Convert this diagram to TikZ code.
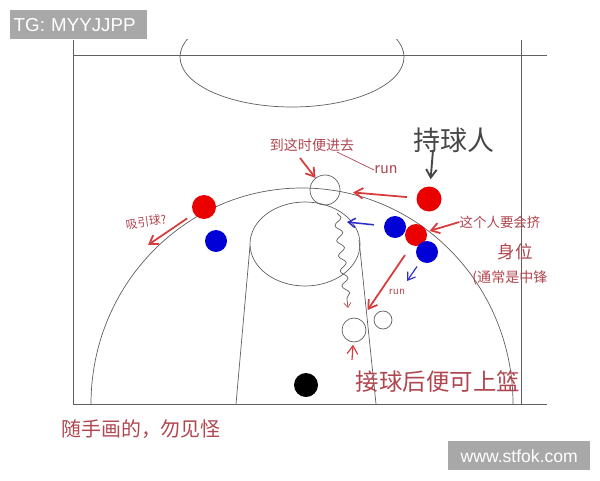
\documentclass[tikz,border=0pt]{standalone}
\usepackage{fontspec}
\newfontfamily\cjk{Noto Sans CJK SC}
\newfontfamily\wmfont{Liberation Sans}
\usetikzlibrary{arrows.meta,decorations.pathmorphing}
\definecolor{court}{RGB}{95,95,95}
\definecolor{hand}{RGB}{175,70,80}
\definecolor{ink}{RGB}{70,70,70}
\definecolor{penred}{RGB}{215,60,60}
\definecolor{penblue}{RGB}{45,45,205}
\definecolor{dotred}{RGB}{235,0,0}
\definecolor{dotblue}{RGB}{0,0,215}
\definecolor{mark}{RGB}{168,168,168}

\begin{document}
\begin{tikzpicture}[x=0.03cm,y=-0.03cm,
    line/.style={draw=court,line width=0.6pt},
    offense/.style={circle,fill=dotred,inner sep=0pt,minimum size=0.66cm},
    defense/.style={circle,fill=dotblue,inner sep=0pt,minimum size=0.66cm},
    spot/.style={circle,draw=court,line width=0.6pt,inner sep=0pt,minimum size=#1},
    note/.style={text=hand,font=\cjk\fontsize{#1}{#1}\selectfont,inner sep=0pt},
    pass/.style={draw=penred,line width=1.5pt,-{Straight Barb[length=7pt,width=9pt]}},
    guard/.style={draw=penblue,line width=1.3pt,-{Straight Barb[length=6pt,width=8pt]}},
    inkarrow/.style={draw=ink,line width=1.6pt,-{Straight Barb[length=7pt,width=9pt]}},
    dribble/.style={draw=court,line width=0.6pt,decorate,
      decoration={snake,segment length=13pt,amplitude=3pt,post length=5pt},
      -{Straight Barb[color=penred,length=4pt,width=6pt]}},
    markbox/.style={fill=mark,text=white,inner xsep=3pt,inner ysep=0pt,minimum height=0.87cm}]
    \useasboundingbox (0,0) rectangle (600,480);

    \draw[line] (73,40) -- (73,404) -- (547,404);
    \draw[line] (73,55) -- (547,55);
    \draw[line] (521,40) -- (521,404);
    \begin{scope}
      \clip (0,40) rectangle (600,480);
      \draw[line] (292,57) ellipse[x radius=112,y radius=50];
    \end{scope}
    \draw[line] (91,404) arc[start angle=180,end angle=360,x radius=211,y radius=216];
    \draw[line] (305,244) ellipse[x radius=55,y radius=42];
    \draw[line] (250,246) -- (236,404);
    \draw[line] (359,240) -- (376,404);

    \node[offense,minimum size=0.75cm] (ball) at (429,199) {};
    \node[offense] (cutter) at (416,235) {};
    \node[offense,minimum size=0.72cm] (wing) at (204,207) {};
    \node[defense] (guardA) at (395,227) {};
    \node[defense] (guardB) at (427,252) {};
    \node[defense] (guardW) at (216,241) {};
    \node[circle,fill=black,inner sep=0pt,minimum size=0.72cm] (post) at (306,385) {};
    \node[spot=0.9cm] (cut) at (325,190) {};
    \node[spot=0.72cm] (catch) at (354,330) {};
    \node[spot=0.54cm] (help) at (383,320) {};

    \node[text=ink,font=\cjk\fontsize{23pt}{23pt}\selectfont,inner sep=0pt] (lblHolder) at (454,140) {持球人};
    \node[note=12pt] (lblGo) at (312,145) {到这时便进去};
    \node[note=10pt,rotate=8] (lblWing) at (146,222) {吸引球?};
    \node[note=11.5pt] (lblSqueeze) at (500,222) {这个人要会挤};
    \node[note=15pt] (lblPos) at (515,252) {身位};
    \node[note=12pt] (lblCenter) at (510,278) {(通常是中锋};
    \node[note=20pt] (lblFinish) at (438,382) {接球后便可上篮};
    \node[note=17pt] (lblNote) at (141,429) {随手画的，勿见怪};
    \node[text=hand,font=\sffamily\fontsize{15pt}{15pt}\selectfont,inner sep=0pt] (lblRunA) at (386,170) {run};
    \node[text=hand,font=\sffamily\fontsize{10pt}{10pt}\selectfont,inner sep=0pt] (lblRunB) at (397,292) {run};

    \coordinate (wingTip) at (148,245);
    \coordinate (goTail) at (300,158);
    \coordinate (goLine) at (337,152);
    \coordinate (guardTip) at (347,222);
    \coordinate (guardBTip) at (407,281);
    \coordinate (runTail) at (405,255);
    \coordinate (holderTail) at (433,150);
    \coordinate (upTail) at (352,360);
    \coordinate (dribStart) at (337,213);
    \coordinate (dribEnd) at (348,308);

    \draw[pass,shorten <=6.8pt] (wing) -- (wingTip);
    \draw[pass] (goTail) -- (cut);
    \draw[draw=hand,line width=0.6pt] (goLine) -- (lblRunA.west);
    \draw[pass,shorten <=8pt,shorten >=11pt] (ball) -- (cut);
    \draw[guard,shorten <=8.5pt] (guardA) -- (guardTip);
    \draw[dribble] (dribStart) -- (dribEnd);
    \draw[pass,shorten >=10pt] (runTail) -- (catch);
    \draw[guard,line width=1pt,shorten <=5.5pt] (guardB) -- (guardBTip);
    \draw[pass,shorten >=2.5pt] (lblSqueeze.west) -- (cutter);
    \draw[inkarrow,shorten >=6pt] (holderTail) -- (ball);
    \draw[pass,line width=1pt,shorten >=2pt] (upTail) -- (catch);

    \node[markbox,text width=3.9cm,anchor=north west,font=\wmfont\fontsize{16pt}{16pt}\selectfont] (tg) at (10,10) {TG: MYYJJPP};
    \node[markbox,minimum width=4.26cm,anchor=north west,font=\wmfont\fontsize{15pt}{15pt}\selectfont] (site) at (448,441) {www.stfok.com};
  \end{tikzpicture}
\end{document}
